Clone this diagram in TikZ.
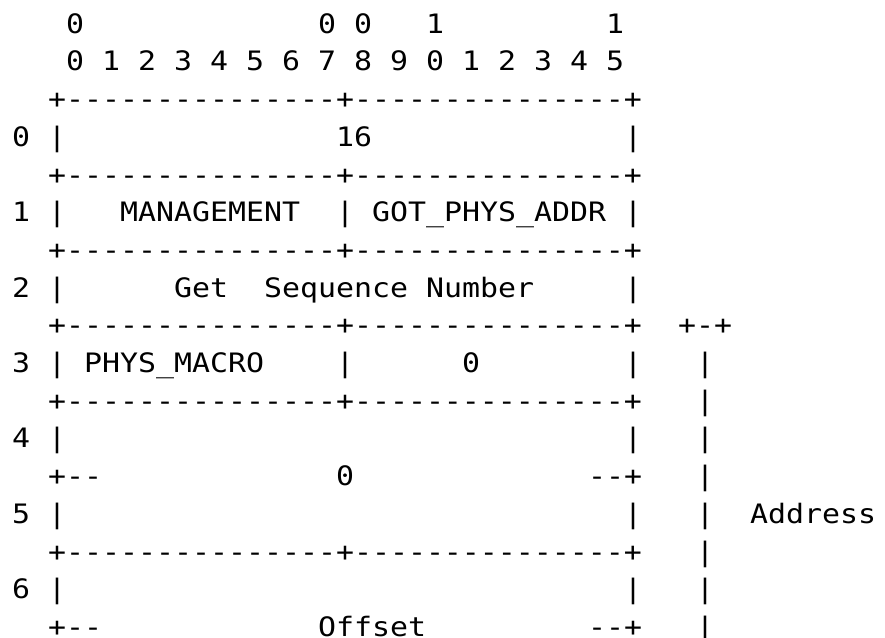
\documentclass[tikz,border=0pt]{standalone}
\usepackage{fontspec}
\setmonofont[FakeStretch=1.118,Ligatures=TeXOff]{DejaVu Sans Mono}
\tikzset{
	ascii/.style={font=\ttfamily\fontsize{13.37pt}{18.85pt}\selectfont,inner sep=0pt,anchor=base west,text=black},
}

\begin{document}
\begin{tikzpicture}[x=9pt,y=-18.85pt]
	\useasboundingbox[fill=white] (-0.65,-0.883) rectangle (48.52,16.04);
	
	% Bit numbers
	\node[ascii] (tens0) at (3,0) {0};
	\node[ascii] (tens7) at (17,0) {0};
	\node[ascii] (tens8) at (19,0) {0};
	\node[ascii] (tens10) at (23,0) {1};
	\node[ascii] (tens15) at (33,0) {1};
	\foreach \b in {0,...,15} {
		\pgfmathtruncatemacro{\u}{mod(\b,10)}
		\node[ascii] (bit\b) at (3+2*\b,1) {\u};
	}
	
	% Rules
	\foreach \r in {2,4,6,8,10,14}
		\node[ascii] (rule\r) at (2,\r) {+---------------+---------------+};
	\foreach \r in {12,16} {
		\node[ascii] (open\r) at (2,\r) {+--};
		\node[ascii] (close\r) at (32,\r) {--+};
	}
	
	% Row numbers and walls
	\foreach \r/\n in {3/0,5/1,7/2,9/3,11/4,13/5,15/6} {
		\node[ascii] (num\n) at (0,\r) {\n};
		\node[ascii] (lwall\n) at (2,\r) {|};
		\node[ascii] (rwall\n) at (34,\r) {|};
	}
	\node[ascii] (mwall1) at (18,5) {|};
	\node[ascii] (mwall3) at (18,9) {|};
	
	% Fields
	\node[ascii] (length) at (18,3) {16};
	\node[ascii] (mgmt) at (6,5) {MANAGEMENT};
	\node[ascii] (gotaddr) at (20,5) {GOT\_PHYS\_ADDR};
	\node[ascii] (get) at (9,7) {Get};
	\node[ascii] (seqnum) at (14,7) {Sequence Number};
	\node[ascii] (macro) at (4,9) {PHYS\_MACRO};
	\node[ascii] (zero3) at (25,9) {0};
	\node[ascii] (zero45) at (18,12) {0};
	\node[ascii] (offset) at (17,16) {Offset};
	
	% Address bracket
	\node[ascii] (brtop) at (37,8) {+-+};
	\foreach \r in {9,...,16}
		\node[ascii] (bar\r) at (38,\r) {|};
	\node[ascii] (addr) at (41,13) {Address};
	
\end{tikzpicture}
\end{document}
